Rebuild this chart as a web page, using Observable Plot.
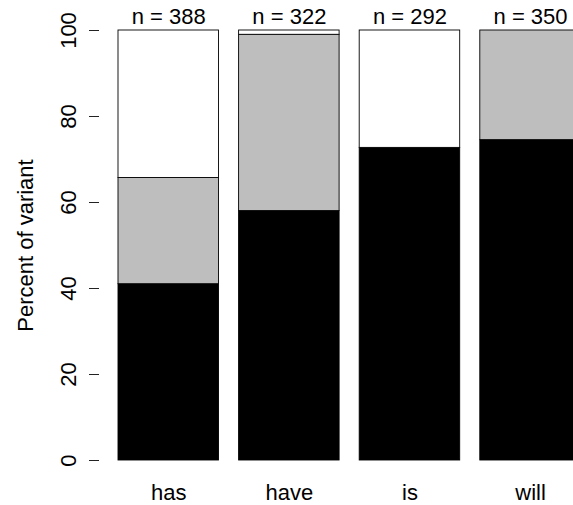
<!DOCTYPE html>
<html>
<head>
<meta charset="utf-8">
<script src="https://cdn.jsdelivr.net/npm/d3@7"></script>
<script src="https://cdn.jsdelivr.net/npm/@observablehq/plot@0.6"></script>
<style>
  html, body { margin: 0; padding: 0; background: white; overflow: hidden; }
</style>
</head>
<body>
<div id="chart"></div>
<script>
// Data
const verbs = ["has", "have", "is", "will"];
const counts = [388, 322, 292, 350];
const variants = ["variant 1", "variant 2", "variant 3"];
const variant1 = [41.0, 58.0, 72.7, 74.5];   // black (bottom)
const variant2 = [24.7, 41.0, 0.0, 25.5];    // gray (middle)
const variant3 = [34.3, 1.0, 27.3, 0.0];     // white (top)
const yTicks = [0, 20, 40, 60, 80, 100];
const yLabel = "Percent of variant";

const series = [variant1, variant2, variant3];
const rows = [];
verbs.forEach((v, i) => {
  series.forEach((s, j) => rows.push({verb: v, variant: variants[j], value: s[i]}));
});
const nRows = verbs.map((v, i) => ({verb: v, n: counts[i]}));

const font = "'Liberation Sans', Arial, Helvetica, sans-serif";

const chart = Plot.plot({
  width: 573,
  height: 505,
  marginTop: 30,
  marginBottom: 45,
  marginLeft: 99,
  marginRight: 0,
  style: {fontFamily: font, fontSize: "22px", background: "white", color: "black"},
  x: {type: "band", domain: verbs, range: [118, 580.3], paddingInner: 1/6, paddingOuter: 0, align: 0, round: false},
  y: {domain: [0, 100], range: [460, 30]},
  color: {domain: variants, range: ["black", "#bebebe", "white"]},
  marks: [
    Plot.barY(rows, Plot.stackY({x: "verb", y: "value", fill: "variant", stroke: "black", strokeWidth: 0.9, inset: 0, order: null})),
    Plot.axisY({ticks: yTicks, tickSize: 10, tickPadding: 14, tickRotate: -90, line: true, label: null, fontSize: 22, stroke: "#222", strokeWidth: 1}),
    Plot.axisX({tickSize: 0, tickPadding: 24.3, label: null, fontSize: 22}),
    Plot.text(nRows, {x: "verb", frameAnchor: "top", text: d => "n = " + d.n, lineAnchor: "bottom", dy: -6.5, fontSize: 22, fill: "black"}),
    Plot.text([yLabel], {frameAnchor: "left", text: d => d, rotate: -90, textAnchor: "middle", lineAnchor: "bottom", dx: -67, fontSize: 22, fill: "black"})
  ]
});
document.getElementById("chart").appendChild(chart);
</script>
</body>
</html>
